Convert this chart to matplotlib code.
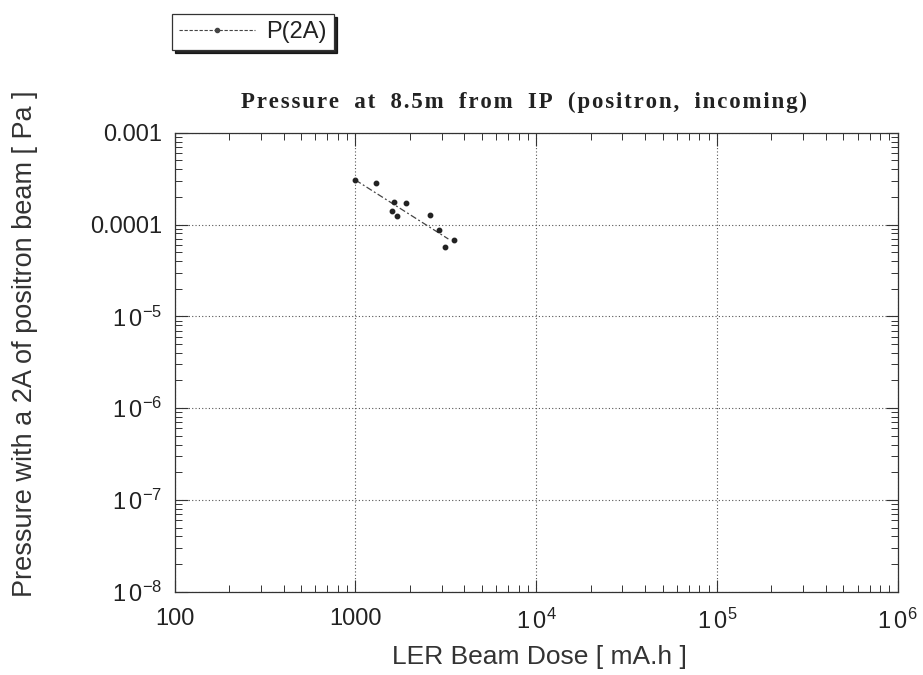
import matplotlib
matplotlib.use("Agg")
import matplotlib.pyplot as plt
from matplotlib.lines import Line2D
from matplotlib.ticker import LogLocator, FixedLocator, NullFormatter

# Measured pressure vs. accumulated LER beam dose
dose = [1000, 1300, 1640, 1905, 1592, 1698, 2582, 2896, 3505, 3118]
pressure = [3.05e-4, 2.83e-4, 1.77e-4, 1.73e-4, 1.41e-4, 1.24e-4, 1.28e-4, 8.71e-5, 6.73e-5, 5.69e-5]

# Power-law fit through the measurements (end points)
fit_dose = [1000, 3266]
fit_pressure = [3.05e-4, 6.95e-5]

x_ticks = [100, 1000, 1e4, 1e5, 1e6]
x_labels = ["100", "1000", r"$\mathregular{1\,0^{4}}$", r"$\mathregular{1\,0^{5}}$", r"$\mathregular{1\,0^{6}}$"]
y_ticks = [1e-8, 1e-7, 1e-6, 1e-5, 1e-4, 1e-3]
y_labels = [r"$\mathregular{1\,0^{-8}}$", r"$\mathregular{1\,0^{-7}}$", r"$\mathregular{1\,0^{-6}}$",
            r"$\mathregular{1\,0^{-5}}$", "0.0001", "0.001"]

title = "Pressure at 8.5m from IP (positron, incoming)"

plt.rcParams["font.family"] = ["Liberation Sans", "DejaVu Sans"]

fig = plt.figure(figsize=(9.23, 6.75), dpi=100)
ax = fig.add_axes([0.1893, 0.1234, 0.7833, 0.68])

ax.set_xscale("log")
ax.set_yscale("log")
ax.set_xlim(100, 1e6)
ax.set_ylim(1e-8, 1e-3)

ax.plot(fit_dose, fit_pressure, color="#444444", lw=0.9, ls=(0, (5, 2, 1.5, 2)))
ax.plot(dose, pressure, ls="none", marker="o", ms=3.2, color="#222222")

ax.xaxis.set_major_locator(FixedLocator(x_ticks))
ax.set_xticklabels(x_labels)
ax.yaxis.set_major_locator(FixedLocator(y_ticks))
ax.set_yticklabels(y_labels)
ax.xaxis.set_minor_locator(LogLocator(base=10, subs=range(2, 10), numticks=20))
ax.yaxis.set_minor_locator(LogLocator(base=10, subs=range(2, 10), numticks=20))
ax.xaxis.set_minor_formatter(NullFormatter())
ax.yaxis.set_minor_formatter(NullFormatter())

ax.tick_params(which="both", direction="in", top=True, right=True, color="#333333",
               labelcolor="#222222")
ax.tick_params(which="major", length=9, width=0.8, labelsize=17)
ax.tick_params(axis="y", which="major", pad=9)
ax.tick_params(axis="x", which="major", pad=12)
ax.tick_params(which="minor", length=5, width=0.7)

ax.grid(True, which="major", ls=(0, (1, 2)), color="#555555", lw=0.8)
for s in ax.spines.values():
    s.set_color("#333333")
    s.set_linewidth(0.9)

ax.set_xlabel("LER Beam Dose [ mA.h ]", fontsize=19, color="#333333", va="center")
ax.xaxis.set_label_coords(0.505, -0.142)
ax.set_ylabel("Pressure with a 2A of positron beam [ Pa ]", fontsize=19.5, color="#333333", va="center")
ax.yaxis.set_label_coords(-0.207, 0.54)

# Title set in a serif face with open letter and word spacing
spaced = "\u200a".join(title).replace(" ", "  ")
fig.text(0.568, 0.849, spaced, ha="center", va="center", fontsize=16.5, fontweight="bold",
         family=["Liberation Serif", "DejaVu Serif"], color="#222222")

handle = Line2D([], [], color="#444444", lw=0.8, ls=(0, (3, 1.5)), marker="o", ms=3, markevery=[1])
leg = fig.legend([handle], ["P(2A)"], loc="upper left", bbox_to_anchor=(0.1864, 0.979),
                 borderaxespad=0, fontsize=17, frameon=True, fancybox=False,
                 shadow={"color": "black", "alpha": 0.85}, numpoints=1,
                 handlelength=3.2, handletextpad=0.5, borderpad=0.3)
leg.get_frame().set_edgecolor("#333333")
leg.get_frame().set_linewidth(0.9)
for t in leg.get_texts():
    t.set_color("#222222")

fig.savefig("out.png", dpi=100, facecolor="white")
